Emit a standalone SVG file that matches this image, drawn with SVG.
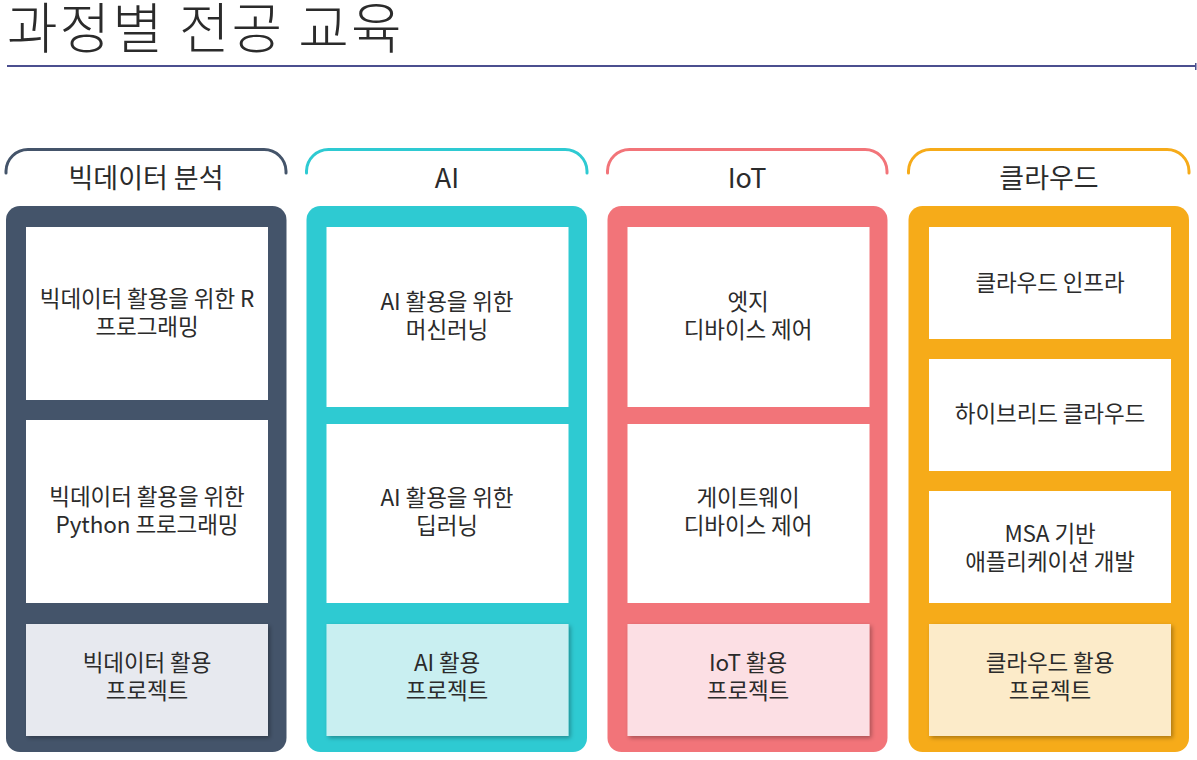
<svg xmlns="http://www.w3.org/2000/svg" width="1197" height="760" viewBox="0 0 1197 760">
<style>
text{font-family:"Noto Sans CJK KR","Noto Sans",sans-serif;fill:#2b2b2b;text-anchor:middle}
.title{font-size:55px;text-anchor:start;letter-spacing:2px;font-weight:300}
.hd{font-size:27px;letter-spacing:0px}
.t{font-size:22.5px;letter-spacing:-0.1px}
.br{fill:none;stroke-width:3;stroke-linecap:round}
.wb{fill:#ffffff}
</style>
<defs>
<filter id="sh" x="-10%" y="-10%" width="130%" height="130%">
<feDropShadow dx="2" dy="2" stdDeviation="2" flood-color="#000" flood-opacity="0.3"/>
</filter>
</defs>
<g id="title">
<text class="title" x="7" y="48">과정별 전공 교육</text>
<line x1="7" y1="66" x2="1195" y2="66" stroke="#4b4f8f" stroke-width="2"/>
<rect x="1195" y="63" width="1.5" height="7" fill="#4b4f8f"/>
</g>
<g id="col1">
<path class="br" stroke="#44546a" d="M6,173 L6,171 A22,22 0 0 1 28,149.5 L264,149.5 A22,22 0 0 1 286,171 L286,173"/>
<text class="hd" x="146" y="188">빅데이터 분석</text>
<rect x="6" y="206" width="280.5" height="546" rx="14" fill="#44546a"/>
<rect class="wb" x="26" y="227" width="242" height="173"/>
<text class="t" x="147" y="307">빅데이터 활용을 위한 R</text>
<text class="t" x="147" y="335">프로그래밍</text>
<rect class="wb" x="26" y="420" width="242" height="183"/>
<text class="t" x="147" y="505">빅데이터 활용을 위한</text>
<text class="t" x="147" y="533">Python 프로그래밍</text>
<rect x="26" y="624" width="242" height="112" fill="#e7e9ef" filter="url(#sh)"/>
<text class="t" x="147" y="671">빅데이터 활용</text>
<text class="t" x="147" y="699">프로젝트</text>
</g>
<g id="col2">
<path class="br" stroke="#2ecad2" d="M306.5,173 L306.5,171 A22,22 0 0 1 328.5,149.5 L565,149.5 A22,22 0 0 1 587,171 L587,173"/>
<text class="hd" x="447" y="188">AI</text>
<rect x="306.5" y="206" width="280.5" height="546" rx="14" fill="#2ecad2"/>
<rect class="wb" x="326.5" y="227" width="242" height="180"/>
<text class="t" x="447" y="310">AI 활용을 위한</text>
<text class="t" x="447" y="338">머신러닝</text>
<rect class="wb" x="326.5" y="424" width="242" height="179"/>
<text class="t" x="447" y="506">AI 활용을 위한</text>
<text class="t" x="447" y="534">딥러닝</text>
<rect x="326.5" y="624" width="242" height="112" fill="#c9eff1" filter="url(#sh)"/>
<text class="t" x="447" y="671">AI 활용</text>
<text class="t" x="447" y="699">프로젝트</text>
</g>
<g id="col3">
<path class="br" stroke="#f27479" d="M607.5,173 L607.5,171 A22,22 0 0 1 629.5,149.5 L865,149.5 A22,22 0 0 1 887,171 L887,173"/>
<text class="hd" x="747" y="188">IoT</text>
<rect x="607.5" y="206" width="280" height="546" rx="14" fill="#f27479"/>
<rect class="wb" x="627.5" y="227" width="242" height="180"/>
<text class="t" x="748" y="310">엣지</text>
<text class="t" x="748" y="338">디바이스 제어</text>
<rect class="wb" x="627.5" y="424" width="242" height="179"/>
<text class="t" x="748" y="506">게이트웨이</text>
<text class="t" x="748" y="534">디바이스 제어</text>
<rect x="627.5" y="624" width="242" height="112" fill="#fcdfe4" filter="url(#sh)"/>
<text class="t" x="748" y="671">IoT 활용</text>
<text class="t" x="748" y="699">프로젝트</text>
</g>
<g id="col4">
<path class="br" stroke="#f6ab19" d="M908.5,173 L908.5,171 A22,22 0 0 1 930.5,149.5 L1167,149.5 A22,22 0 0 1 1189,171 L1189,173"/>
<text class="hd" x="1049" y="188">클라우드</text>
<rect x="908.5" y="206" width="280.5" height="546" rx="14" fill="#f6ab19"/>
<rect class="wb" x="929" y="227" width="242" height="112"/>
<text class="t" x="1050" y="291">클라우드 인프라</text>
<rect class="wb" x="929" y="359" width="242" height="112"/>
<text class="t" x="1050" y="422">하이브리드 클라우드</text>
<rect class="wb" x="929" y="491" width="242" height="112"/>
<text class="t" x="1050" y="542">MSA 기반</text>
<text class="t" x="1050" y="570">애플리케이션 개발</text>
<rect x="929" y="624" width="242" height="112" fill="#fcebc9" filter="url(#sh)"/>
<text class="t" x="1050" y="671">클라우드 활용</text>
<text class="t" x="1050" y="699">프로젝트</text>
</g>
</svg>
